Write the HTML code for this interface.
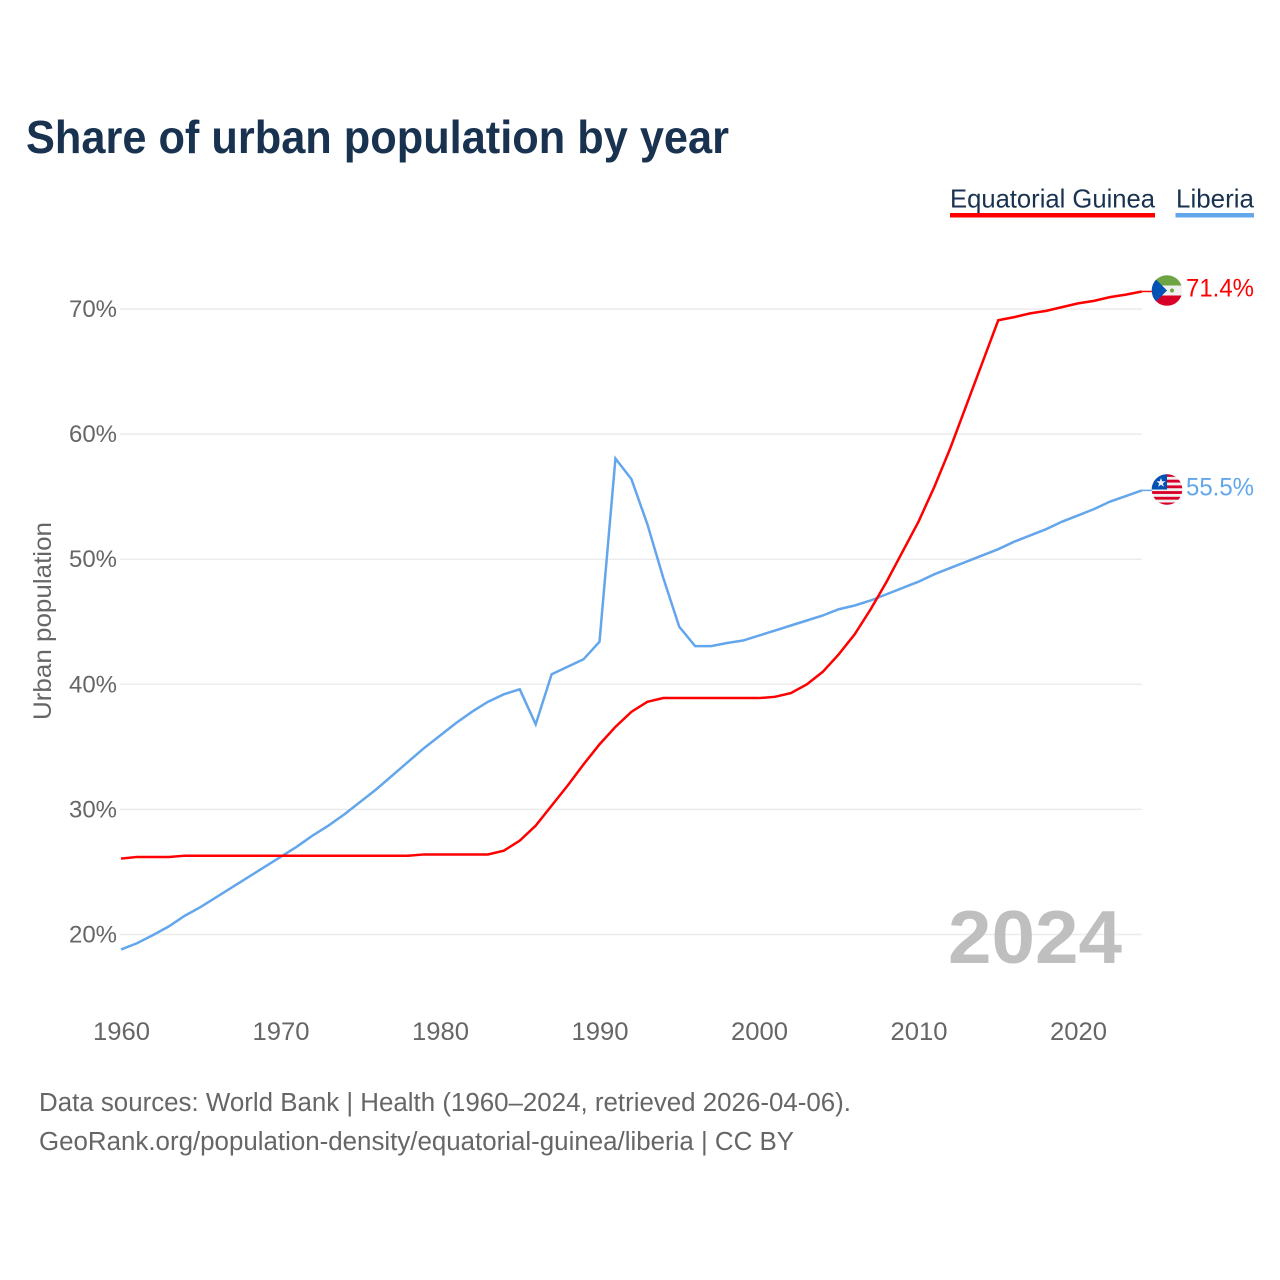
<!DOCTYPE html>
<html lang="en">
<head>
<meta charset="utf-8">
<title>Share of urban population by year</title>
<style>
html,body{margin:0;padding:0;background:#fff;width:1280px;height:1280px;overflow:hidden}
svg{display:block}
text{font-family:"Liberation Sans",sans-serif}
</style>
</head>
<body>
<svg id="chart" xmlns="http://www.w3.org/2000/svg" width="1280" height="1280" viewBox="0 0 1280 1280">
  <defs>
    <clipPath id="flag-clip-a"><circle cx="1167" cy="290.5" r="15.3"/></clipPath>
    <clipPath id="flag-clip-b"><circle cx="1167" cy="489.5" r="15.3"/></clipPath>
  </defs>
  <text x="26" y="153" font-size="46" font-weight="700" fill="#18324f" textLength="703" lengthAdjust="spacingAndGlyphs">Share of urban population by year</text>

  <g>
    <text x="950" y="207.5" font-size="26" fill="#18324f" textLength="205" lengthAdjust="spacingAndGlyphs">Equatorial Guinea</text>
    <rect x="950" y="213" width="205" height="4.5" fill="#ff0000"/>
  </g>
  <g>
    <text x="1176" y="207.5" font-size="26" fill="#18324f" textLength="78" lengthAdjust="spacingAndGlyphs">Liberia</text>
    <rect x="1175.5" y="213" width="78.5" height="4.5" fill="#63a6ec"/>
  </g>

  <g id="grid"></g>
  <g id="yticks"></g>
  <g id="xticks"></g>

  <text transform="translate(51 720) rotate(-90)" font-size="25" fill="#666666" textLength="198" lengthAdjust="spacingAndGlyphs">Urban population</text>

  <text x="948" y="963" font-size="75" font-weight="700" fill="#bfbfbf" textLength="174" lengthAdjust="spacingAndGlyphs">2024</text>

  <g id="series"></g>

  <g clip-path="url(#flag-clip-a)">
    <rect x="1151" y="275" width="32" height="10.5" fill="#6da544"/>
    <rect x="1151" y="285.5" width="32" height="10" fill="#f0f0f0"/>
    <rect x="1151" y="295.5" width="32" height="11" fill="#d80027"/>
    <polygon points="1151,274.5 1167,290.5 1151,306.5" fill="#0052b4"/>
    <circle cx="1172" cy="290.5" r="2" fill="#6da544"/>
  </g>

  <g clip-path="url(#flag-clip-b)">
    <rect x="1151" y="474" width="32" height="31" fill="#f0f0f0"/>
    <rect x="1151" y="474" width="32" height="2.85" fill="#d80027"/>
    <rect x="1151" y="479.7" width="32" height="2.85" fill="#d80027"/>
    <rect x="1151" y="485.4" width="32" height="2.85" fill="#d80027"/>
    <rect x="1151" y="491.1" width="32" height="2.85" fill="#d80027"/>
    <rect x="1151" y="496.8" width="32" height="2.85" fill="#d80027"/>
    <rect x="1151" y="502.5" width="32" height="2.85" fill="#d80027"/>
    <rect x="1151" y="474" width="16" height="15.5" fill="#0052b4"/>
    <polygon points="1161,478 1162.2,481.3 1165.6,481.3 1162.9,483.4 1163.9,486.7 1161,484.7 1158.1,486.7 1159.1,483.4 1156.4,481.3 1159.8,481.3" fill="#f0f0f0"/>
  </g>

  <text id="end-a" x="1186" y="296.5" font-size="25" fill="#ff0000" textLength="68" lengthAdjust="spacingAndGlyphs"></text>
  <text id="end-b" x="1186" y="495.5" font-size="25" fill="#63a6ec" textLength="68" lengthAdjust="spacingAndGlyphs"></text>

  <text x="39" y="1111" font-size="25.5" fill="#666666" textLength="812" lengthAdjust="spacingAndGlyphs">Data sources: World Bank | Health (1960–2024, retrieved 2026-04-06).</text>
  <text x="39" y="1150" font-size="25.5" fill="#666666" textLength="755" lengthAdjust="spacingAndGlyphs">GeoRank.org/population-density/equatorial-guinea/liberia | CC BY</text>
</svg>
<script>
const years = [1960,1961,1962,1963,1964,1965,1966,1967,1968,1969,1970,1971,1972,1973,1974,1975,1976,1977,1978,1979,1980,1981,1982,1983,1984,1985,1986,1987,1988,1989,1990,1991,1992,1993,1994,1995,1996,1997,1998,1999,2000,2001,2002,2003,2004,2005,2006,2007,2008,2009,2010,2011,2012,2013,2014,2015,2016,2017,2018,2019,2020,2021,2022,2023,2024];
const equatorialGuinea = [26.07,26.2,26.2,26.2,26.3,26.3,26.3,26.3,26.3,26.3,26.3,26.3,26.3,26.3,26.3,26.3,26.3,26.3,26.3,26.4,26.4,26.4,26.4,26.4,26.7,27.5,28.7,30.3,31.9,33.6,35.2,36.6,37.8,38.6,38.9,38.9,38.9,38.9,38.9,38.9,38.9,39.0,39.3,40.0,41.0,42.4,44.0,46.0,48.2,50.6,53.0,55.8,58.9,62.3,65.7,69.1,69.35,69.65,69.85,70.15,70.45,70.65,70.95,71.15,71.4];
const liberia = [18.8,19.3,19.95,20.65,21.5,22.2,23.0,23.8,24.6,25.4,26.2,27.0,27.9,28.7,29.6,30.6,31.6,32.7,33.8,34.9,35.9,36.9,37.8,38.6,39.2,39.6,36.8,40.8,41.4,42.0,43.4,58.05,56.4,52.8,48.5,44.6,43.05,43.05,43.3,43.5,43.9,44.3,44.7,45.1,45.5,46.0,46.3,46.7,47.2,47.7,48.2,48.8,49.3,49.8,50.3,50.8,51.4,51.9,52.4,53.0,53.5,54.0,54.6,55.05,55.5];
const yTickValues = [20,30,40,50,60,70];
const xTickValues = [1960,1970,1980,1990,2000,2010,2020];

const NS = 'http://www.w3.org/2000/svg';
function xScale(year){ return 121 + (year - 1960) * 15.95; }
function yScale(v){ return 309 + (70 - v) * 12.51; }

const grid = document.getElementById('grid');
const yticks = document.getElementById('yticks');
const xticks = document.getElementById('xticks');
const series = document.getElementById('series');

yTickValues.forEach(function(v){
  const line = document.createElementNS(NS, 'line');
  
  
  line.setAttribute('x1', 120);
  line.setAttribute('x2', 1142);
  line.setAttribute('y1', yScale(v));
  line.setAttribute('y2', yScale(v));
  line.setAttribute('stroke', '#ececec');
  line.setAttribute('stroke-width', 1.5);
  grid.appendChild(line);

  const label = document.createElementNS(NS, 'text');
  
  
  label.setAttribute('x', 69);
  label.setAttribute('y', yScale(v) + 8);
  label.setAttribute('font-size', 24.5);
  label.setAttribute('fill', '#666666');
  label.setAttribute('textLength', 48);
  label.setAttribute('lengthAdjust', 'spacingAndGlyphs');
  label.textContent = v + '%';
  yticks.appendChild(label);
});

xTickValues.forEach(function(year){
  const label = document.createElementNS(NS, 'text');
  
  
  label.setAttribute('x', xScale(year) - 28);
  label.setAttribute('y', 1040);
  label.setAttribute('font-size', 25);
  label.setAttribute('fill', '#666666');
  label.setAttribute('textLength', 57);
  label.setAttribute('lengthAdjust', 'spacingAndGlyphs');
  label.textContent = year;
  xticks.appendChild(label);
});

function seriesPoints(values){
  return values.map(function(v, i){
    return xScale(years[i]).toFixed(2) + ',' + yScale(v).toFixed(2);
  }).join(' ');
}

const lineB = document.createElementNS(NS, 'polyline');


lineB.setAttribute('points', seriesPoints(liberia));
lineB.setAttribute('fill', 'none');
lineB.setAttribute('stroke', '#63a6ec');
lineB.setAttribute('stroke-width', 2.5);
series.appendChild(lineB);

const lineA = document.createElementNS(NS, 'polyline');


lineA.setAttribute('points', seriesPoints(equatorialGuinea));
lineA.setAttribute('fill', 'none');
lineA.setAttribute('stroke', '#ff0000');
lineA.setAttribute('stroke-width', 2.5);
series.appendChild(lineA);

const lastA = equatorialGuinea[equatorialGuinea.length - 1];
const lastB = liberia[liberia.length - 1];

const leadA = document.createElementNS(NS, 'line');


leadA.setAttribute('x1', xScale(2024));
leadA.setAttribute('x2', 1152);
leadA.setAttribute('y1', yScale(lastA));
leadA.setAttribute('y2', yScale(lastA));
leadA.setAttribute('stroke', '#ff0000');
leadA.setAttribute('stroke-width', 1.5);
series.appendChild(leadA);

const leadB = document.createElementNS(NS, 'line');


leadB.setAttribute('x1', xScale(2024));
leadB.setAttribute('x2', 1152);
leadB.setAttribute('y1', yScale(lastB));
leadB.setAttribute('y2', yScale(lastB));
leadB.setAttribute('stroke', '#63a6ec');
leadB.setAttribute('stroke-width', 1.5);
series.appendChild(leadB);

document.getElementById('end-a').textContent = lastA.toFixed(1) + '%';
document.getElementById('end-b').textContent = lastB.toFixed(1) + '%';
</script>
</body>
</html>
